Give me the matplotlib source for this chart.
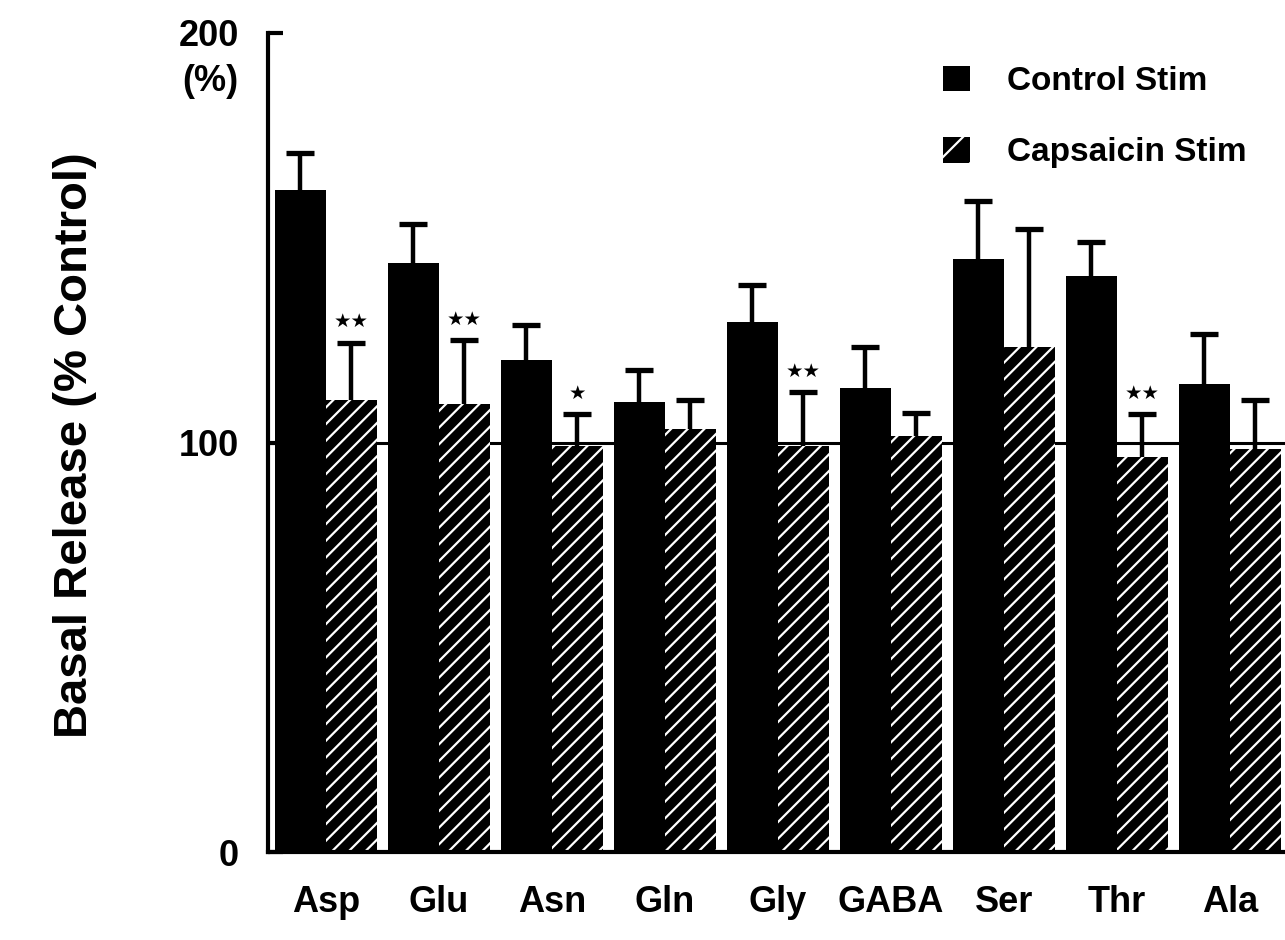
import numpy as np
import matplotlib
matplotlib.use('Agg')
import matplotlib.pyplot as plt
from matplotlib.patches import Patch

plt.rcParams['font.family'] = ['Liberation Sans', 'DejaVu Sans']
plt.rcParams['hatch.color'] = 'white'
plt.rcParams['hatch.linewidth'] = 1.6

amino = ['Asp', 'Glu', 'Asn', 'Gln', 'Gly', 'GABA', 'Ser', 'Thr', 'Ala']
control = [161.6, 143.8, 120.2, 109.9, 129.5, 113.4, 144.8, 140.7, 114.2]
control_err = [9.2, 9.5, 8.6, 7.8, 9.0, 9.8, 14.2, 8.3, 12.2]
capsaicin = [110.5, 109.3, 99.2, 103.2, 99.1, 101.6, 123.2, 96.4, 98.5]
capsaicin_err = [13.9, 15.7, 7.8, 7.3, 13.2, 5.6, 29.0, 10.5, 11.9]
signif = ['**', '**', '*', '', '**', '', '', '**', '']

x = np.arange(len(amino))
w = 0.45

fig = plt.figure(figsize=(12.85, 9.4), dpi=100)
ax = fig.add_axes([268 / 1285, 1 - 852 / 940, 1017 / 1285, 819 / 940])

# reference line at 100 %
ax.axhline(100, color='black', lw=2.2, zorder=0)

ax.bar(x - w / 2, control, w, color='black', zorder=1, label='Control Stim')
ax.bar(x + w / 2, capsaicin, w, color='black', hatch='//', zorder=1,
       label='Capsaicin Stim')

# upper error bars only (hide the cap sitting on the bar top)
for xs, vals, errs in [(x - w / 2, control, control_err),
                       (x + w / 2, capsaicin, capsaicin_err)]:
    eb = ax.errorbar(xs, vals, yerr=[np.zeros(len(xs)), errs], fmt='none',
                     ecolor='black', elinewidth=3.2, capthick=3.8, capsize=10,
                     zorder=2)
    eb[1][0].set_visible(False)

# significance stars above the capsaicin bars
for i, s in enumerate(signif):
    if s:
        ax.annotate('\u2605' * len(s), (x[i] + w / 2, capsaicin[i] + capsaicin_err[i]),
                    xytext=(0, 15), textcoords='offset points',
                    ha='center', va='center', fontsize=14,
                    family='DejaVu Sans')

ax.set_xlim(-0.512, 8.488)
ax.set_ylim(0, 200)
ax.set_yticks([0, 100, 200])
ax.set_yticklabels(['0', '100', '200'], fontsize=26, fontweight='bold')
ax.set_xticks(x)
ax.set_xticklabels(amino, fontsize=26, fontweight='bold')
ax.tick_params(axis='y', direction='in', length=11, width=3, pad=21)
ax.tick_params(axis='x', length=0, pad=24)
ax.annotate('(%)', (0, 200), xycoords=('axes fraction', 'data'),
            xytext=(-21, -35), textcoords='offset points',
            ha='right', va='center', fontsize=26, fontweight='bold')

for side in ['top', 'right']:
    ax.spines[side].set_visible(False)
ax.spines['left'].set_linewidth(3)
ax.spines['bottom'].set_linewidth(3)

fig.text(75 / 1285, 1 - 445 / 940, 'Basal Release (% Control)',
         rotation=90, ha='center', va='center', fontsize=34, fontweight='bold')

handles = [Patch(facecolor='black', label='Control Stim'),
           Patch(facecolor='black', hatch='/', label='Capsaicin Stim')]
ax.legend(handles=handles, loc='upper left', bbox_to_anchor=(0.664, 0.96),
          frameon=False, borderpad=0, borderaxespad=0,
          handlelength=0.8, handleheight=0.8, handletextpad=1.1,
          labelspacing=1.2, prop={'size': 24, 'weight': 'bold'})

fig.savefig('out.png', dpi=100)
